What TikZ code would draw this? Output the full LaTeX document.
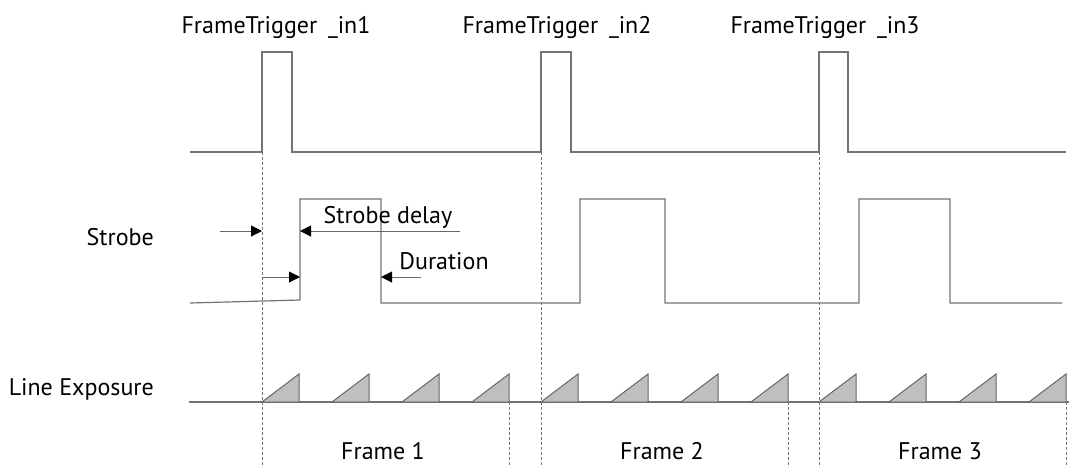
\documentclass[tikz,border=0pt]{standalone}
\usepackage{fontspec}
\setmainfont{PT Sans}
\usetikzlibrary{arrows.meta}

\begin{document}
\begin{tikzpicture}[x=1pt,y=-1pt,font=\fontsize{24}{28}\selectfont,
 sig/.style={draw=black!55,line width=1.2pt},
 dsh/.style={draw=black!55,line width=0.8pt,dash pattern=on 3pt off 2pt},
 ar/.style={-{Triangle[length=11pt,width=11pt,color=black]},draw=black!60,line width=1pt},
 tri/.style={draw=black!60,fill=black!25,line width=1pt},
 lbl/.style={inner sep=0pt,anchor=base}]
\useasboundingbox (0,0) rectangle (1071,467);

% trigger instants and frame ends
\foreach \t in {262,541,819}{
  \draw[dsh] (\t,152) -- (\t,467);
  \draw[dsh] ({\t+247},402) -- ({\t+247},467);
}

% signals
\draw[sig] (190,152) -- (262,152) -- (262,52) -- (292,52) -- (292,152)
 -- (541,152) -- (541,52) -- (571,52) -- (571,152)
 -- (819,152) -- (819,52) -- (848,52) -- (848,152) -- (1066,152);
\draw[sig] (190,303) -- (300,300) -- (300,199) -- (381,199) -- (381,303)
 -- (580,303) -- (580,199) -- (665,199) -- (665,303)
 -- (859,303) -- (859,199) -- (950,199) -- (950,303) -- (1062,303);
\draw[sig] (189,402) -- (1069,402);
\foreach \t in {262,541,819}
  \foreach \k in {0,...,3}
    \draw[tri] ({\t+\k*70},402) -- ++(37,0) -- ++(0,-28) -- cycle;

% labels
\node[lbl] (in1) at (276,33) {FrameTrigger\hspace{0.45em}\_in1};
\node[lbl] (in2) at (557,33) {FrameTrigger\hspace{0.45em}\_in2};
\node[lbl] (in3) at (825,33) {FrameTrigger\hspace{0.45em}\_in3};
\node[lbl,anchor=base east] (strobe) at (154,245) {Strobe};
\node[lbl,anchor=base east] (lexp) at (154,395) {Line Exposure};
\node[lbl] (sdelay) at (388,223) {Strobe delay};
\node[lbl] (dur) at (444,269) {Duration};
\node[lbl] (fr1) at (383,459) {Frame 1};
\node[lbl] (fr2) at (662,459) {Frame 2};
\node[lbl] (fr3) at (940,459) {Frame 3};

% delay and duration arrows
\coordinate (dl) at (220,231); \coordinate (t1a) at (262,231);
\coordinate (dr) at (460,231); \coordinate (s1a) at (300,231);
\coordinate (t1b) at (262,277); \coordinate (s1b) at (300,277);
\coordinate (dd) at (421,277); \coordinate (f1b) at (381,277);
\draw[ar] (dl) -- (t1a);
\draw[ar] (dr) -- (s1a);
\draw[ar] (t1b) -- (s1b);
\draw[ar] (dd) -- (f1b);
\end{tikzpicture}
\end{document}
